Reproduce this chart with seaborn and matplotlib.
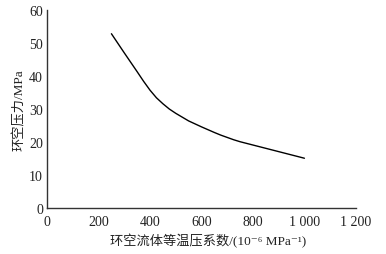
import matplotlib
matplotlib.use("Agg")
import matplotlib.pyplot as plt
import seaborn as sns
import pandas as pd

coef = [250, 300, 350, 375, 400, 425, 450, 475, 500, 550, 600, 650, 675, 700, 725, 750, 800, 850, 900, 950, 1000]
pressure = [52.8, 47.0, 41.3, 38.4, 35.7, 33.4, 31.6, 30.0, 28.7, 26.4, 24.6, 22.9, 22.1, 21.4, 20.7, 20.1, 19.1, 18.1, 17.1, 16.1, 15.1]
xticks = [0, 200, 400, 600, 800, 1000, 1200]
xticklabels = ["0", "200", "400", "600", "800", "1 000", "1 200"]
yticks = [0, 10, 20, 30, 40, 50, 60]

sns.set_theme(style="white")
plt.rcParams['font.family'] = ['Liberation Serif', 'Noto Sans CJK SC', 'DejaVu Sans']

df = pd.DataFrame({"x": coef, "y": pressure})
fig = plt.figure(figsize=(3.86, 2.55), dpi=100)
ax = fig.add_axes([0.122, 0.180, 0.800, 0.777])
sns.lineplot(data=df, x="x", y="y", ax=ax, color="black", linewidth=1.0)

ax.set_xlim(0, 1200)
ax.set_ylim(0, 60)
ax.set_xticks(xticks)
ax.set_xticklabels(xticklabels)
ax.set_yticks(yticks)
for s in ["top", "right"]:
    ax.spines[s].set_visible(False)
for s in ["left", "bottom"]:
    ax.spines[s].set_color("#333333")
    ax.spines[s].set_linewidth(1.0)
ax.tick_params(axis="both", direction="in", length=3, width=1.0, color="#333333",
               labelsize=10, labelcolor="#222222")
ax.tick_params(axis="x", pad=5)
ax.tick_params(axis="y", pad=3)
ax.set_xlabel("环空流体等温压系数/(10⁻⁶ MPa⁻¹)", fontsize=9.5, color="#222222")
ax.xaxis.set_label_coords(0.52, -0.125)
ax.set_ylabel("环空压力/MPa", fontsize=9.5, color="#222222", labelpad=2)
fig.savefig("out.png", dpi=100, facecolor="white")
